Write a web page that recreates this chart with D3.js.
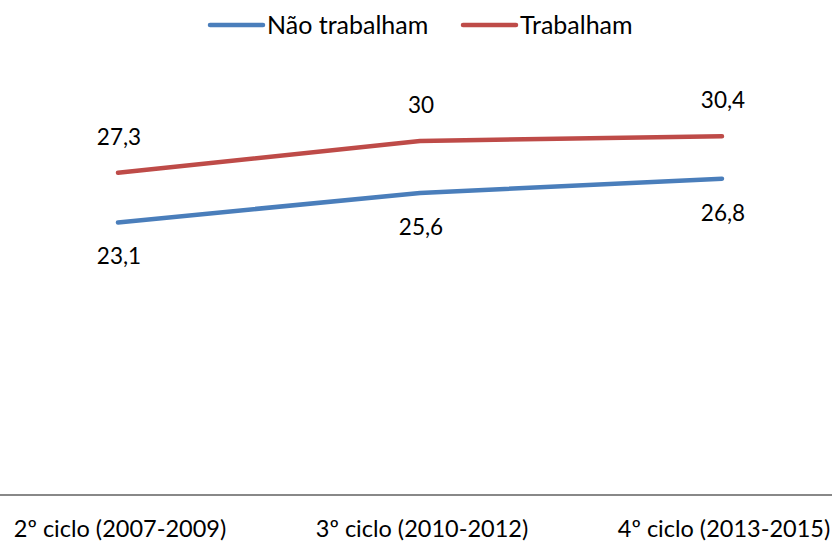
<!DOCTYPE html>
<html>
<head>
<meta charset="utf-8">
<script src="https://cdn.jsdelivr.net/npm/d3@7"></script>
<style>
  body { margin: 0; background: #fff; }
  text { font-family: Lato, "Open Sans", sans-serif; fill: #000; }
</style>
</head>
<body>
<div class="center"></div>
<script>
// data
var categories = ["2º ciclo (2007-2009)", "3º ciclo (2010-2012)", "4º ciclo (2013-2015)"];
var naoTrabalham = [23.1, 25.6, 26.8];
var trabalham = [27.3, 30, 30.4];
var seriesNames = ["Não trabalham", "Trabalham"];
var colors = ["#4a7ebb", "#be4b48"];

var width = 832, height = 541;

var svg = d3.select(".center").append("svg")
    .attr("width", width)
    .attr("height", height);

var x = d3.scalePoint().domain(categories).range([118, 722]);
var y = d3.scaleLinear().domain([0, 35]).range([495, 82]);

var fmt = function(v) { return String(v).replace(".", ","); };

var series = [
  {name: seriesNames[0], values: naoTrabalham, color: colors[0], dy: 42},
  {name: seriesNames[1], values: trabalham, color: colors[1], dy: -28}
];

// axis line
svg.append("line")
    .attr("x1", 0).attr("x2", width)
    .attr("y1", y(0)).attr("y2", y(0))
    .attr("stroke", "#888").attr("stroke-width", 2);

// category labels
svg.selectAll(".cat")
    .data(categories)
  .enter().append("text")
    .attr("class", "cat")
    .attr("x", function(d) { return x(d) + 2; })
    .attr("y", 537)
    .attr("text-anchor", "middle")
    .style("font-size", "23.5px")
    .text(function(d) { return d; });

var line = d3.line()
    .x(function(d, i) { return x(categories[i]); })
    .y(function(d) { return y(d); });

series.forEach(function(s) {
  svg.append("path")
      .datum(s.values)
      .attr("fill", "none")
      .attr("stroke", s.color)
      .attr("stroke-width", 4.5)
      .attr("stroke-linecap", "round")
      .attr("stroke-linejoin", "round")
      .attr("d", line);

  svg.selectAll(null)
      .data(s.values)
    .enter().append("text")
      .attr("x", function(d, i) { return x(categories[i]) + 1; })
      .attr("y", function(d) { return y(d) + s.dy; })
      .attr("text-anchor", "middle")
      .style("font-size", "22.5px")
      .text(fmt);
});

// legend
var legendX = [210, 463];
series.forEach(function(s, i) {
  var g = svg.append("g").attr("transform", "translate(" + legendX[i] + ",25)");
  g.append("line")
      .attr("x1", 0).attr("x2", 53)
      .attr("stroke", s.color)
      .attr("stroke-width", 4.5)
      .attr("stroke-linecap", "round");
  g.append("text")
      .attr("x", 57)
      .attr("y", 8.5)
      .style("font-size", "25px")
      .text(s.name);
});
</script>
</body>
</html>
